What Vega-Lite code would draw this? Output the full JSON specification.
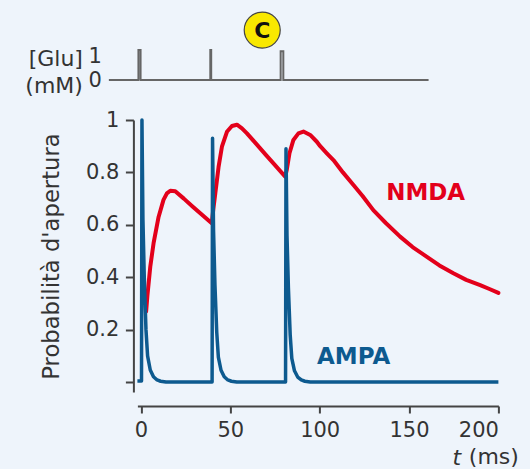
{
  "$schema": "https://vega.github.io/schema/vega-lite/v6.json",
  "background": "#eef4fb",
  "padding": {"left": 24.4, "top": 9, "right": 12, "bottom": 4},
  "config": {
    "view": {"stroke": null},
    "font": "DejaVu Sans",
    "axis": {"labelFont": "DejaVu Sans", "titleFont": "DejaVu Sans", "labelColor": "#333333", "titleColor": "#333333", "titleFontWeight": "normal", "grid": false}
  },
  "datasets": {
    "glu": [
      {"t": -17.2, "g": 0}, {"t": -0.6, "g": 0}, {"t": -0.6, "g": 1.25}, {"t": 0.6, "g": 1.25}, {"t": 0.6, "g": 0},
      {"t": 39.75, "g": 0}, {"t": 39.75, "g": 1.25}, {"t": 40.25, "g": 1.25}, {"t": 40.25, "g": 0},
      {"t": 79.25, "g": 0}, {"t": 79.25, "g": 1.2}, {"t": 80.75, "g": 1.2}, {"t": 80.75, "g": 0},
      {"t": 162.3, "g": 0}
    ],
    "badge": [{"t": 68.9, "g": 2.08, "label": "C"}],
    "nmda": [
      {"t": 2.9, "v": 0.27}, {"t": 3.6, "v": 0.33}, {"t": 5.2, "v": 0.44}, {"t": 7.05, "v": 0.53}, {"t": 9.85, "v": 0.63},
      {"t": 12.6, "v": 0.695}, {"t": 14.5, "v": 0.72}, {"t": 16.4, "v": 0.73}, {"t": 19.2, "v": 0.728}, {"t": 24, "v": 0.7},
      {"t": 29, "v": 0.669}, {"t": 34, "v": 0.639}, {"t": 39.6, "v": 0.606},
      {"t": 40.5, "v": 0.66}, {"t": 41.6, "v": 0.72}, {"t": 43.4, "v": 0.82}, {"t": 45.3, "v": 0.898}, {"t": 48.1, "v": 0.955},
      {"t": 50.9, "v": 0.977}, {"t": 53.7, "v": 0.982}, {"t": 56.5, "v": 0.968}, {"t": 59.3, "v": 0.949}, {"t": 65, "v": 0.905},
      {"t": 70, "v": 0.866}, {"t": 75, "v": 0.828}, {"t": 80.7, "v": 0.784},
      {"t": 81.6, "v": 0.81}, {"t": 83.1, "v": 0.873}, {"t": 85.3, "v": 0.924}, {"t": 88.1, "v": 0.949}, {"t": 90.9, "v": 0.956},
      {"t": 94.7, "v": 0.943}, {"t": 98.4, "v": 0.917}, {"t": 100.3, "v": 0.9}, {"t": 104, "v": 0.873}, {"t": 107.7, "v": 0.847},
      {"t": 113, "v": 0.8}, {"t": 118.9, "v": 0.752}, {"t": 124, "v": 0.71}, {"t": 130, "v": 0.656}, {"t": 137, "v": 0.607},
      {"t": 145, "v": 0.555}, {"t": 152, "v": 0.515}, {"t": 160, "v": 0.478}, {"t": 167, "v": 0.445}, {"t": 174.8, "v": 0.415},
      {"t": 182, "v": 0.39}, {"t": 189.8, "v": 0.37}, {"t": 195, "v": 0.355}, {"t": 200, "v": 0.34}
    ],
    "ampa": [
      {"t": -2, "v": 0.004}, {"t": 0.3, "v": 0.004}, {"t": 0.55, "v": 1.0}, {"t": 1.1, "v": 0.62}, {"t": 1.85, "v": 0.4},
      {"t": 2.8, "v": 0.2}, {"t": 3.7, "v": 0.1}, {"t": 5.2, "v": 0.046}, {"t": 7, "v": 0.02}, {"t": 9, "v": 0.008},
      {"t": 11, "v": 0.003}, {"t": 14, "v": 0.0},
      {"t": 39.8, "v": 0.0}, {"t": 40.05, "v": 0.93}, {"t": 40.6, "v": 0.58}, {"t": 41.4, "v": 0.37}, {"t": 42.4, "v": 0.19},
      {"t": 43.3, "v": 0.095}, {"t": 44.8, "v": 0.045}, {"t": 46.6, "v": 0.02}, {"t": 48.6, "v": 0.008}, {"t": 50.6, "v": 0.003},
      {"t": 53.6, "v": 0.0},
      {"t": 80.9, "v": 0.0}, {"t": 81.15, "v": 0.89}, {"t": 81.7, "v": 0.56}, {"t": 82.5, "v": 0.36}, {"t": 83.5, "v": 0.18},
      {"t": 84.4, "v": 0.09}, {"t": 85.9, "v": 0.043}, {"t": 87.7, "v": 0.019}, {"t": 89.7, "v": 0.008}, {"t": 91.7, "v": 0.003},
      {"t": 94.7, "v": 0.0}, {"t": 200, "v": 0.0}
    ],
    "labels": [
      {"t": 159.3, "v": 0.723, "name": "NMDA"},
      {"t": 119, "v": 0.094, "name": "AMPA"}
    ],
    "tvar": [{"t": 179.1, "v": -0.29, "name": "t"}]
  },
  "vconcat": [
    {
      "width": 361,
      "height": 24,
      "encoding": {
        "x": {"field": "t", "type": "quantitative", "scale": {"domain": [-1.18, 201.5], "nice": false, "zero": false}, "axis": null},
        "y": {"field": "g", "type": "quantitative", "scale": {"domain": [0, 1], "nice": false, "zero": false},
              "axis": {"values": [0, 1], "format": "d", "domain": false, "ticks": false, "tickSize": 0, "labelPadding": 36, "labelFontSize": 21,
                       "labelBaseline": "middle", "title": ["[Glu]", "(mM)"], "titleAngle": 0, "titleAlign": "right",
                       "titleBaseline": "middle", "titleX": -55, "titleY": 2, "titleLineHeight": 28, "titleFontSize": 22}}
      },
      "layer": [
        {"data": {"name": "glu"}, "mark": {"type": "line", "color": "#666666", "strokeWidth": 2, "strokeJoin": "miter"}},
        {"data": {"name": "badge"}, "mark": {"type": "point", "shape": "circle", "filled": true, "fill": "#f9e800", "stroke": "#444444", "strokeWidth": 1.2, "size": 1296, "opacity": 1}},
        {"data": {"name": "badge"}, "mark": {"type": "text", "fontSize": 22, "fontWeight": "bold", "color": "#111111", "baseline": "middle", "align": "center", "dy": 1}, "encoding": {"text": {"field": "label"}}}
      ]
    },
    {
      "width": 361,
      "height": 272,
      "encoding": {
        "x": {"field": "t", "type": "quantitative", "scale": {"domain": [-2, 200], "nice": false, "zero": false},
              "axis": {"values": [0, 50, 100, 150, 200], "offset": 14, "tickSize": 7, "labelPadding": 7, "labelFontSize": 21,
                       "domainColor": "#444444", "domainWidth": 2, "tickColor": "#444444", "tickWidth": 2,
                       "title": "(ms)", "titleX": 381, "titleY": 51, "titleAlign": "right", "titleBaseline": "middle", "titleFontSize": 22}},
        "y": {"field": "v", "type": "quantitative", "scale": {"domain": [-0.038, 1], "nice": false, "zero": false},
              "axis": {"values": [0, 0.2, 0.4, 0.6, 0.8, 1], "labelExpr": "datum.value == 0 ? '' : datum.value == 1 ? '1' : format(datum.value, '.1f')",
                       "offset": 4, "tickSize": 8, "labelPadding": 6.5, "labelFontSize": 21,
                       "domainColor": "#444444", "domainWidth": 2, "tickColor": "#444444", "tickWidth": 2,
                       "title": "Probabilità d'apertura", "titleFontSize": 22.7, "titleX": -70, "titleBaseline": "bottom"}}
      },
      "layer": [
        {"data": {"name": "nmda"}, "mark": {"type": "line", "color": "#e3001b", "strokeWidth": 4, "strokeJoin": "round", "strokeCap": "round"}},
        {"data": {"name": "ampa"}, "mark": {"type": "line", "color": "#0d5a8f", "strokeWidth": 3.5, "strokeJoin": "round"}},
        {"data": {"name": "labels"}, "mark": {"type": "text", "fontSize": 23, "fontWeight": "bold", "align": "center", "baseline": "middle"},
         "encoding": {"text": {"field": "name"},
                      "color": {"field": "name", "type": "nominal", "scale": {"domain": ["NMDA", "AMPA"], "range": ["#e3001b", "#0d5a8f"]}, "legend": null}}},
        {"data": {"name": "tvar"}, "mark": {"type": "text", "fontSize": 22, "fontStyle": "italic", "align": "right", "baseline": "middle", "color": "#333333"},
         "encoding": {"text": {"field": "name"}}}
      ]
    }
  ],
  "spacing": 40,
  "bounds": "flush",
  "resolve": {"scale": {"x": "independent", "y": "independent"}}
}
